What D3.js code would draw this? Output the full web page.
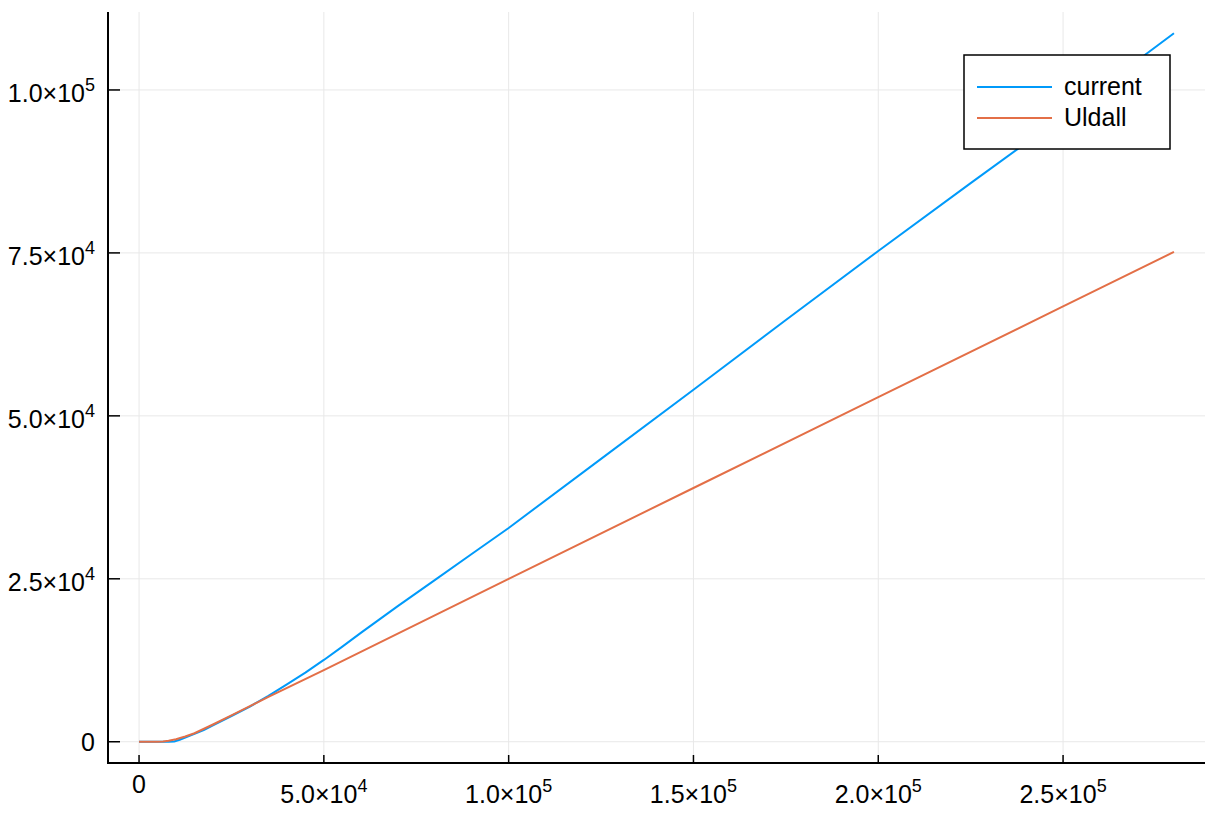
<!DOCTYPE html>
<html>
<head>
<meta charset="utf-8">
<script src="https://cdn.jsdelivr.net/npm/d3@7"></script>
<style>
  html, body { margin: 0; padding: 0; background: #fff; }
  svg { display: block; }
  text { font-family: "Liberation Sans", Arial, sans-serif; fill: #000; }
</style>
</head>
<body>
<svg id="chart" width="1214" height="817"></svg>
<script>
// ---- data ----
const currentX = [0, 5000, 8000, 9500, 11000, 13000, 15000, 17500, 20000, 25000, 30000, 35000, 40000, 45000, 50000, 55000, 60000, 70000, 80000, 90000, 100000, 125000, 150000, 175000, 200000, 225000, 250000, 280000];
const currentY = [0, 0, 0, 40, 300, 750, 1200, 1800, 2500, 3950, 5400, 7050, 8800, 10600, 12550, 14600, 16700, 20800, 24800, 28800, 32800, 43400, 54000, 64700, 75300, 85700, 96000, 108700];
const uldallX = [0, 5000, 6500, 8000, 10000, 12500, 15000, 20000, 25000, 30000, 35000, 50000, 100000, 150000, 200000, 250000, 280000];
const uldallY = [0, 0, 30, 150, 380, 800, 1300, 2650, 4050, 5450, 6880, 11000, 25000, 38930, 52860, 66790, 75150];
const seriesNames = ["current", "Uldall"];
const seriesColors = ["#009AFA", "#E36F47"];
const xTickValues = [0, 50000, 100000, 150000, 200000, 250000];
const xTickLabels = ["0", "5.0×10^4", "1.0×10^5", "1.5×10^5", "2.0×10^5", "2.5×10^5"];
const yTickValues = [0, 25000, 50000, 75000, 100000];
const yTickLabels = ["0", "2.5×10^4", "5.0×10^4", "7.5×10^4", "1.0×10^5"];

// ---- layout ----
const L = 108, R = 1205, T = 12, B = 763;
const FS = 25;

const series = [
  { name: seriesNames[0], color: seriesColors[0], pts: currentX.map((x, i) => [x, currentY[i]]) },
  { name: seriesNames[1], color: seriesColors[1], pts: uldallX.map((x, i) => [x, uldallY[i]]) }
];

const allX = currentX.concat(uldallX), allY = currentY.concat(uldallY);
const [x0, x1] = d3.extent(allX), [y0, y1] = d3.extent(allY);
const px = (x1 - x0) * 0.03, py = (y1 - y0) * 0.03;
const x = d3.scaleLinear().domain([x0 - px, x1 + px]).range([L, R]);
const y = d3.scaleLinear().domain([y0 - py, y1 + py]).range([B, T]);

const svg = d3.select("#chart");

// grid
const g = svg.append("g");
g.selectAll(".gx").data(xTickValues).enter().append("line")
  .attr("x1", d => x(d)).attr("x2", d => x(d)).attr("y1", T).attr("y2", B)
  .attr("stroke", "#e8e8e8").attr("stroke-width", 1);
g.selectAll(".gy").data(yTickValues).enter().append("line")
  .attr("x1", L).attr("x2", R).attr("y1", d => y(d)).attr("y2", d => y(d))
  .attr("stroke", "#e8e8e8").attr("stroke-width", 1);

// lines
const line = d3.line().x(d => x(d[0])).y(d => y(d[1]));
series.forEach(s => {
  svg.append("path").datum(s.pts).attr("d", line)
    .attr("fill", "none").attr("stroke", s.color).attr("stroke-width", 2)
    .attr("stroke-linejoin", "round");
});

// spines
svg.append("line").attr("x1", L).attr("x2", L).attr("y1", T).attr("y2", B + 1)
  .attr("stroke", "#000").attr("stroke-width", 2);
svg.append("line").attr("x1", L - 1).attr("x2", R).attr("y1", B).attr("y2", B)
  .attr("stroke", "#000").attr("stroke-width", 2);

// ticks
svg.selectAll(".tx").data(xTickValues).enter().append("line")
  .attr("x1", d => x(d)).attr("x2", d => x(d)).attr("y1", B).attr("y2", B - 8)
  .attr("stroke", "#000").attr("stroke-width", 1.5);
svg.selectAll(".ty").data(yTickValues).enter().append("line")
  .attr("x1", L).attr("x2", L + 12).attr("y1", d => y(d)).attr("y2", d => y(d))
  .attr("stroke", "#000").attr("stroke-width", 1.5);

function fillLabel(t, lab) {
  const parts = lab.split("^");
  t.append("tspan").text(parts[0]);
  if (parts.length > 1) {
    t.append("tspan").attr("dy", -FS * 0.45).style("font-size", (FS * 0.72) + "px").text(parts[1]);
  }
}

xTickValues.forEach((v, i) => {
  const lab = xTickLabels[i];
  const hasExp = lab.includes("^");
  const t = svg.append("text").attr("x", x(v)).attr("y", hasExp ? 803 : 793)
    .attr("text-anchor", "middle").style("font-size", FS + "px");
  fillLabel(t, lab);
});
yTickValues.forEach((v, i) => {
  const lab = yTickLabels[i];
  const t = svg.append("text").attr("x", 95).attr("y", y(v) + (lab.includes("^") ? 12 : 9))
    .attr("text-anchor", "end").style("font-size", FS + "px");
  fillLabel(t, lab);
});

// legend
const lg = svg.append("g");
lg.append("rect").attr("x", 964).attr("y", 55).attr("width", 206).attr("height", 94)
  .attr("fill", "#fff").attr("stroke", "#000").attr("stroke-width", 1.5);
series.forEach((s, i) => {
  const ly = 87 + i * 31;
  lg.append("line").attr("x1", 977).attr("x2", 1052).attr("y1", ly).attr("y2", ly)
    .attr("stroke", s.color).attr("stroke-width", 2);
  lg.append("text").attr("x", 1064).attr("y", ly + 8).style("font-size", FS + "px").text(s.name);
});
</script>
</body>
</html>
